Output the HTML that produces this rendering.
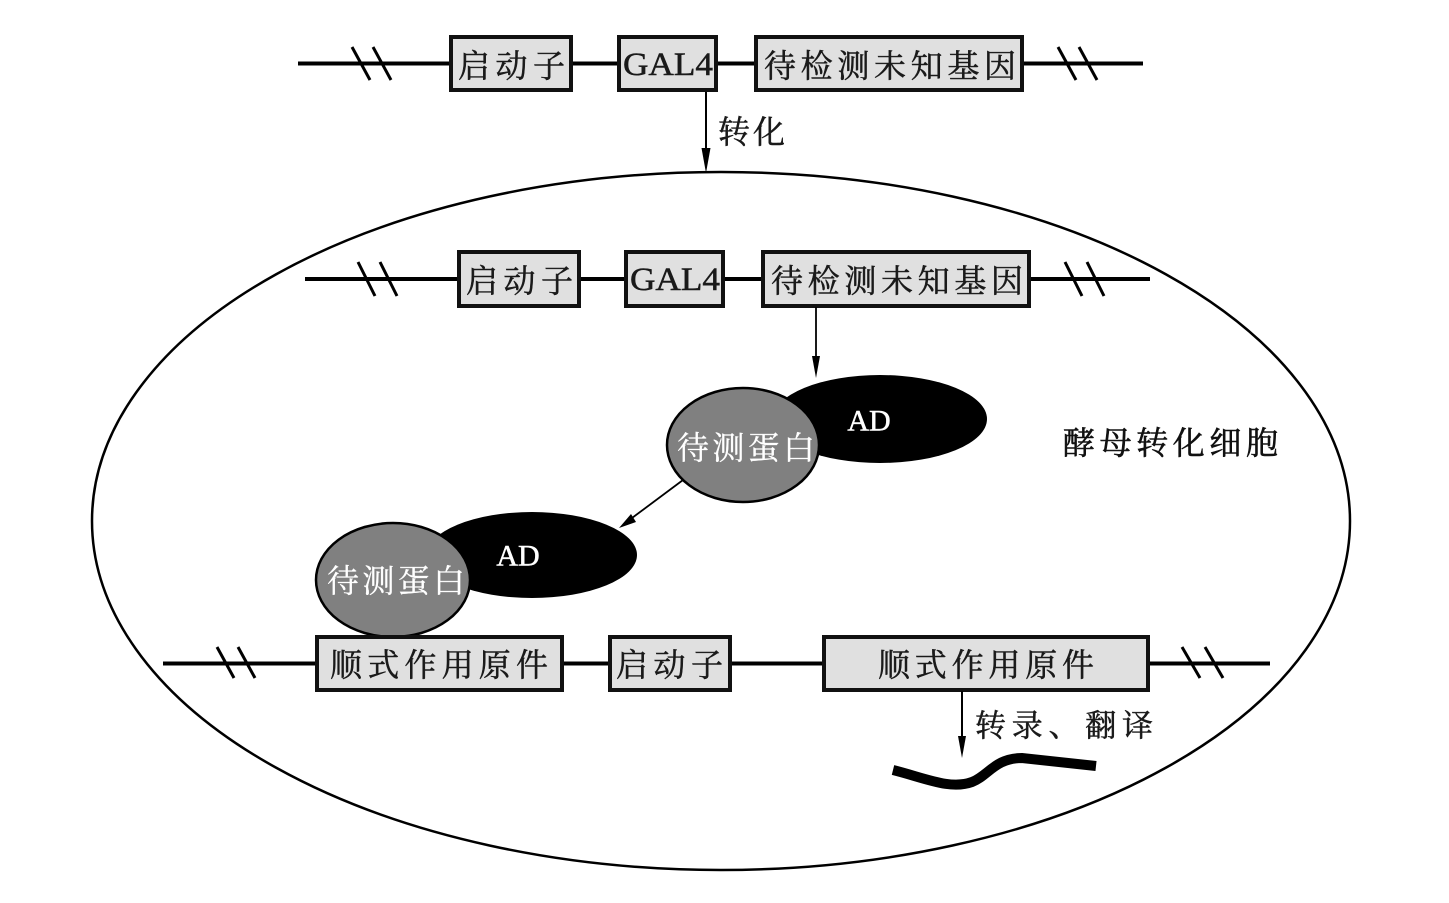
<!DOCTYPE html>
<html>
<head>
<meta charset="utf-8">
<style>
html,body{margin:0;padding:0;background:#fff;}
svg{display:block;}
.cjk{font-family:"Noto Serif CJK SC","Liberation Serif",serif;}
.lat{font-family:"Liberation Serif","Noto Serif CJK SC",serif;}
</style>
</head>
<body>
<svg width="1449" height="903" viewBox="0 0 1449 903" xmlns="http://www.w3.org/2000/svg">
<rect width="1449" height="903" fill="#fff"/>

<!-- Cell ellipse -->
<ellipse cx="721" cy="521" rx="629" ry="349" fill="none" stroke="#000" stroke-width="2.5"/>

<!-- ===== Top row ===== -->
<line x1="298" y1="63.5" x2="1143" y2="63.5" stroke="#000" stroke-width="4"/>
<g stroke="#000" stroke-width="3">
<line x1="352" y1="47" x2="370" y2="80"/>
<line x1="373" y1="47" x2="391" y2="80"/>
<line x1="1058" y1="47" x2="1076" y2="80"/>
<line x1="1079" y1="47" x2="1097" y2="80"/>
</g>
<g fill="#e0e0e0" stroke="#111" stroke-width="4">
<rect x="451" y="37" width="120" height="53"/>
<rect x="619" y="37" width="97" height="53"/>
<rect x="756" y="37" width="266" height="53"/>
</g>
<g fill="#1a1a1a" stroke="#1a1a1a" stroke-width="0.5" font-size="32" dominant-baseline="central">
<text class="cjk" x="458" y="64" textLength="107" lengthAdjust="spacing">启动子</text>
<text class="lat" x="623" y="65" font-size="33" textLength="90" lengthAdjust="spacingAndGlyphs">GAL4</text>
<text class="cjk" x="764" y="64" textLength="252" lengthAdjust="spacing">待检测未知基因</text>
</g>

<!-- Transform arrow -->
<line x1="706" y1="92" x2="706" y2="152" stroke="#000" stroke-width="2"/>
<polygon points="701.5,148 710.5,148 706,173" fill="#000"/>
<text class="cjk" x="718" y="130" font-size="32" fill="#1a1a1a" stroke="#1a1a1a" stroke-width="0.5" dominant-baseline="central" textLength="67" lengthAdjust="spacing">转化</text>

<!-- ===== Second row (inside cell) ===== -->
<line x1="305" y1="279" x2="1150" y2="279" stroke="#000" stroke-width="4"/>
<g stroke="#000" stroke-width="3">
<line x1="358" y1="262" x2="375" y2="296"/>
<line x1="380" y1="262" x2="397" y2="296"/>
<line x1="1065" y1="262" x2="1082" y2="296"/>
<line x1="1087" y1="262" x2="1104" y2="296"/>
</g>
<g fill="#e0e0e0" stroke="#111" stroke-width="4">
<rect x="459" y="252" width="120" height="54"/>
<rect x="626" y="252" width="97" height="54"/>
<rect x="763" y="252" width="266" height="54"/>
</g>
<g fill="#1a1a1a" stroke="#1a1a1a" stroke-width="0.5" font-size="32" dominant-baseline="central">
<text class="cjk" x="466" y="279" textLength="107" lengthAdjust="spacing">启动子</text>
<text class="lat" x="630" y="280" font-size="33" textLength="90" lengthAdjust="spacingAndGlyphs">GAL4</text>
<text class="cjk" x="771" y="279" textLength="252" lengthAdjust="spacing">待检测未知基因</text>
</g>

<!-- arrow down to AD -->
<line x1="816" y1="307" x2="816" y2="360" stroke="#000" stroke-width="1.8"/>
<polygon points="812,356 820,356 816,378" fill="#000"/>

<!-- Top protein complex -->
<ellipse cx="880" cy="419" rx="107" ry="44" fill="#000"/>
<text class="lat" x="869" y="421" font-size="30" fill="#fff" stroke="#fff" stroke-width="0.5" text-anchor="middle" dominant-baseline="central">AD</text>
<ellipse cx="743" cy="445" rx="76" ry="57" fill="#808080" stroke="#000" stroke-width="2.5"/>
<text class="cjk" x="677" y="446" font-size="32" fill="#fff" stroke="#fff" stroke-width="0.3" dominant-baseline="central" textLength="138" lengthAdjust="spacing">待测蛋白</text>

<!-- diagonal arrow -->
<line x1="683" y1="480" x2="628" y2="521" stroke="#000" stroke-width="1.8"/>
<polygon points="619,528 631,514 636,522" fill="#000"/>

<!-- Bottom protein complex -->
<ellipse cx="532" cy="555" rx="105" ry="43" fill="#000"/>
<text class="lat" x="518" y="556" font-size="30" fill="#fff" stroke="#fff" stroke-width="0.5" text-anchor="middle" dominant-baseline="central">AD</text>
<ellipse cx="393" cy="580" rx="77" ry="57" fill="#808080" stroke="#000" stroke-width="2.5"/>
<text class="cjk" x="327" y="579" font-size="32" fill="#fff" stroke="#fff" stroke-width="0.3" dominant-baseline="central" textLength="138" lengthAdjust="spacing">待测蛋白</text>

<!-- ===== Third row ===== -->
<line x1="163" y1="663.5" x2="1270" y2="663.5" stroke="#000" stroke-width="4"/>
<g stroke="#000" stroke-width="3">
<line x1="217" y1="647" x2="234" y2="678"/>
<line x1="238" y1="647" x2="255" y2="678"/>
<line x1="1182" y1="647" x2="1200" y2="678"/>
<line x1="1205" y1="647" x2="1223" y2="678"/>
</g>
<g fill="#e0e0e0" stroke="#111" stroke-width="4">
<rect x="317" y="637" width="245" height="53"/>
<rect x="610" y="637" width="120" height="53"/>
<rect x="824" y="637" width="324" height="53"/>
</g>
<g fill="#1a1a1a" stroke="#1a1a1a" stroke-width="0.5" font-size="32" dominant-baseline="central">
<text class="cjk" x="330" y="663" textLength="218" lengthAdjust="spacing">顺式作用原件</text>
<text class="cjk" x="616" y="663" textLength="107" lengthAdjust="spacing">启动子</text>
<text class="cjk" x="878" y="663" textLength="216" lengthAdjust="spacing">顺式作用原件</text>
</g>

<!-- transcription arrow -->
<line x1="962" y1="691" x2="962" y2="740" stroke="#000" stroke-width="2"/>
<polygon points="958,736 966,736 962,758" fill="#000"/>
<text class="cjk" x="975" y="723" font-size="31" fill="#1a1a1a" stroke="#1a1a1a" stroke-width="0.5" dominant-baseline="central" textLength="178" lengthAdjust="spacing">转录、翻译</text>

<!-- product wavy line -->
<path d="M893,770 C925,778 950,790 972,782 C988,776 995,758 1022,758 L1096,766" fill="none" stroke="#000" stroke-width="10"/>

<!-- cell label -->
<text class="cjk" x="1063" y="441" font-size="32" fill="#111" stroke="#111" stroke-width="0.6" dominant-baseline="central" textLength="215" lengthAdjust="spacing">酵母转化细胞</text>
</svg>
</body>
</html>
